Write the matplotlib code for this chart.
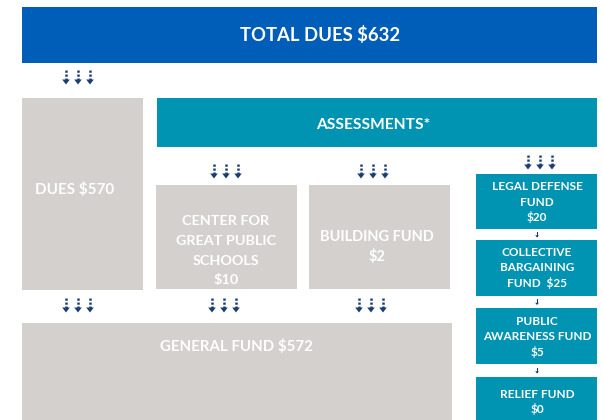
import matplotlib
matplotlib.use("Agg")
import matplotlib.pyplot as plt
from matplotlib.patches import Rectangle, Polygon

# ---- data ----
total_dues = 632
dues = 570
assessments_label = "ASSESSMENTS*"
program_labels = ["CENTER FOR\nGREAT PUBLIC\nSCHOOLS", "BUILDING FUND"]
program_amounts = [10, 2]
fund_labels = ["LEGAL DEFENSE\nFUND", "COLLECTIVE\nBARGAINING\nFUND ", "PUBLIC\nAWARENESS FUND", "RELIEF FUND"]
fund_amounts = [20, 25, 5, 0]
fund_amount_inline = [False, True, False, False]
general_fund = 572

# ---- style ----
BLUE = "#005EB8"
TEAL = "#0093B2"
GRAY = "#D3D0CD"
NAVY = "#1B3D70"
FONT = "Lato"

fig = plt.figure(figsize=(6.03, 4.2), dpi=100)
ax = fig.add_axes([0, 0, 1, 1])
ax.set_xlim(0, 603)
ax.set_ylim(420, 0)
ax.axis("off")


def box(x0, y0, x1, y1, color):
    ax.add_patch(Rectangle((x0, y0), x1 - x0, y1 - y0, facecolor=color, edgecolor="none"))


def lines(cx, cy, text, size, spacing):
    parts = text.split("\n")
    n = len(parts)
    em = size * 100 / 72
    for i, p in enumerate(parts):
        y = cy + (i - (n - 1) / 2) * spacing + 0.36 * em
        ax.text(cx, y, p, ha="center", va="baseline", color="white",
                fontsize=size, fontweight="bold", family=FONT)


def arrows(cx, cy, n=3, gap=12, h=15):
    top = cy - h / 2
    bot = cy + h / 2
    for i in range(n):
        x = cx + (i - (n - 1) / 2) * gap
        ax.plot([x, x], [top, bot - 4], color=NAVY, lw=1.8, ls=(0, (0.9, 0.7)),
                solid_capstyle="butt", dash_capstyle="butt")
        ax.add_patch(Polygon([(x - 3.8, bot - 5), (x + 3.8, bot - 5), (x, bot)],
                             closed=True, facecolor=NAVY, edgecolor="none"))


def small_arrow(cx, cy, h=6):
    ax.plot([cx, cx], [cy - h / 2, cy + h / 2 - 2], color=NAVY, lw=0.8)
    ax.add_patch(Polygon([(cx - 1.8, cy + h / 2 - 2.2), (cx + 1.8, cy + h / 2 - 2.2), (cx, cy + h / 2)],
                         closed=True, facecolor=NAVY, edgecolor="none"))


# total
box(22, 7, 597, 63, BLUE)
lines(320, 34, f"TOTAL DUES ${total_dues}", 13.3, 18)
arrows(78, 77)

# dues
box(22, 98, 143, 290, GRAY)
lines(75, 188, f"DUES ${dues}", 11, 15)

# assessments
box(157, 98, 597, 147, TEAL)
lines(373, 123, assessments_label, 11.2, 15)

# programs
arrows(226, 171)
arrows(373, 171)
box(156, 185, 297, 289, GRAY)
lines(226, 249.5, f"{program_labels[0]}\n${program_amounts[0]}", 10.4, 19.7)
box(309, 185, 450, 289, GRAY)
lines(377, 246, f"{program_labels[1]}\n${program_amounts[1]}", 10.5, 20)

# funds column
arrows(540, 162)
fund_boxes = [(174, 229), (240, 296), (308, 364), (377, 425)]
fund_centers = [201.5, 267, 336, 401.5]
for i, (lab, amt) in enumerate(zip(fund_labels, fund_amounts)):
    y0, y1 = fund_boxes[i]
    box(476, y0, 597, y1, TEAL)
    if fund_amount_inline[i]:
        txt = f"{lab} ${amt}"
    else:
        txt = f"{lab}\n${amt}"
    lines(537, fund_centers[i], txt, 8.5, 15.3)
    if i < len(fund_labels) - 1:
        small_arrow(537, (y1 + fund_boxes[i + 1][0]) / 2)

# general fund
arrows(78, 305)
arrows(224, 305)
arrows(371, 305)
box(22, 323, 452, 425, GRAY)
lines(237, 346, f"GENERAL FUND ${general_fund}", 10.8, 15)

fig.savefig("out.png", dpi=100)
